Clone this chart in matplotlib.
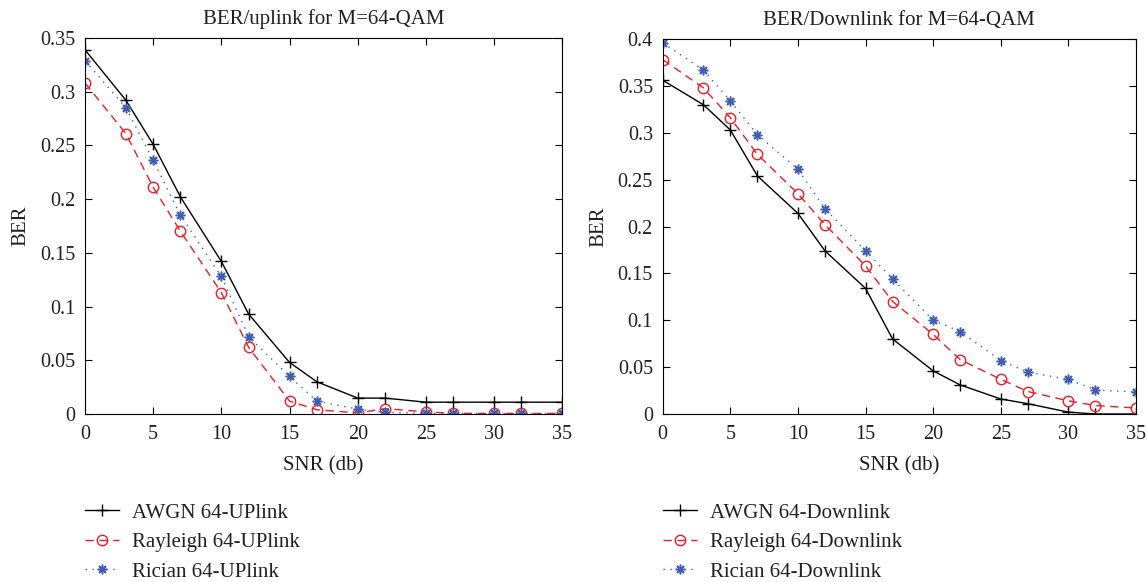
import matplotlib
matplotlib.use("Agg")
import matplotlib.pyplot as plt

snr = [0, 3, 5, 7, 10, 12, 15, 17, 20, 22, 25, 27, 30, 32, 35]

up_awgn = [0.339, 0.292, 0.251, 0.202, 0.142, 0.093, 0.048, 0.030, 0.0148, 0.0148, 0.011, 0.011, 0.011, 0.011, 0.011]
up_rayleigh = [0.308, 0.261, 0.211, 0.170, 0.113, 0.062, 0.012, 0.004, 0.001, 0.005, 0.002, 0.0006, 0.0005, 0.0005, 0.0005]
up_rician = [0.329, 0.285, 0.236, 0.185, 0.128, 0.072, 0.035, 0.012, 0.0046, 0.0015, 0.0006, 0.0005, 0.0005, 0.0005, 0.0005]

dn_awgn = [0.356, 0.330, 0.303, 0.254, 0.214, 0.174, 0.134, 0.080, 0.046, 0.031, 0.016, 0.011, 0.002, 0.0, 0.0]
dn_rayleigh = [0.378, 0.348, 0.316, 0.277, 0.235, 0.202, 0.158, 0.120, 0.085, 0.058, 0.037, 0.024, 0.014, 0.009, 0.0064]
dn_rician = [0.396, 0.367, 0.334, 0.298, 0.261, 0.219, 0.174, 0.144, 0.100, 0.088, 0.057, 0.0445, 0.037, 0.0256, 0.0235]

up_labels = ["AWGN 64-UPlink", "Rayleigh 64-UPlink", "Rician 64-UPlink"]
dn_labels = ["AWGN 64-Downlink", "Rayleigh 64-Downlink", "Rician 64-Downlink"]
titles = ["BER/uplink for M=64-QAM", "BER/Downlink for M=64-QAM"]

plt.rcParams['font.family'] = ['Liberation Serif', 'DejaVu Serif']
plt.rcParams['font.size'] = 14
TXT = '#231f20'

BLUE = '#3f5db3'
RED = '#ee1c24'
fig = plt.figure(figsize=(11.47, 5.82), dpi=100)
W, H = 1147, 582
ax1 = fig.add_axes([85 / W, 1 - 414 / H, (562.3 - 85) / W, (414 - 38) / H])
ax2 = fig.add_axes([662.7 / W, 1 - 414 / H, (1136 - 662.7) / W, (414 - 39) / H])

def draw(ax, a, r, c, labels, title, ymax, yticks, yticklabels):
    h1, = ax.plot(snr, a, color='black', lw=1.0, marker='+', ms=8.5, mew=1.0, label=labels[0])
    h2, = ax.plot(snr, r, color=RED, lw=1.0, ls=(0, (6, 4)), marker='o', ms=7.5,
                  mfc='none', mew=1.0, label=labels[1])
    h3, = ax.plot(snr, c, color=BLUE, lw=1.0, ls=(0, (1, 4)), marker=(8, 2, 0), ms=7, mew=1.1,
                  label=labels[2])
    ax.set_xlim(0, 35)
    ax.set_ylim(0, ymax)
    ax.set_xticks([0, 5, 10, 15, 20, 25, 30, 35])
    ax.set_yticks(yticks)
    ax.set_yticklabels(yticklabels)
    ax.tick_params(direction='in', top=True, right=True, length=5, width=0.8,
                   labelsize=14.5, labelcolor=TXT)
    ax.tick_params(axis='x', pad=8)
    ax.tick_params(axis='y', pad=7)
    ax.set_xlabel("SNR (db)", fontsize=15, labelpad=9, color=TXT)
    ax.set_ylabel("BER", fontsize=15, labelpad=7, color=TXT)
    ax.set_title(title, fontsize=15, pad=10, color=TXT)
    for s in ax.spines.values():
        s.set_linewidth(0.8)
    return [h1, h2, h3]

hup = draw(ax1, up_awgn, up_rayleigh, up_rician, up_labels, titles[0], 0.35,
           [0, 0.05, 0.1, 0.15, 0.2, 0.25, 0.3, 0.35],
           ["0", "0.05", "0.1", "0.15", "0.2", "0.25", "0.3", "0.35"])
hdn = draw(ax2, dn_awgn, dn_rayleigh, dn_rician, dn_labels, titles[1], 0.4,
           [0, 0.05, 0.1, 0.15, 0.2, 0.25, 0.3, 0.35, 0.4],
           ["0", "0.05", "0.1", "0.15", "0.2", "0.25", "0.3", "0.35", "0.4"])

leg_kw = dict(frameon=False, fontsize=15, handlelength=1.65, handletextpad=0.62,
              labelspacing=0.48, loc='upper left', borderaxespad=0, borderpad=0,
              labelcolor=TXT)
fig.legend(handles=hup, bbox_to_anchor=(85 / W, 1 - 503 / H), **leg_kw)
fig.legend(handles=hdn, bbox_to_anchor=(662.7 / W, 1 - 503 / H), **leg_kw)

fig.savefig("out.png", dpi=100)
